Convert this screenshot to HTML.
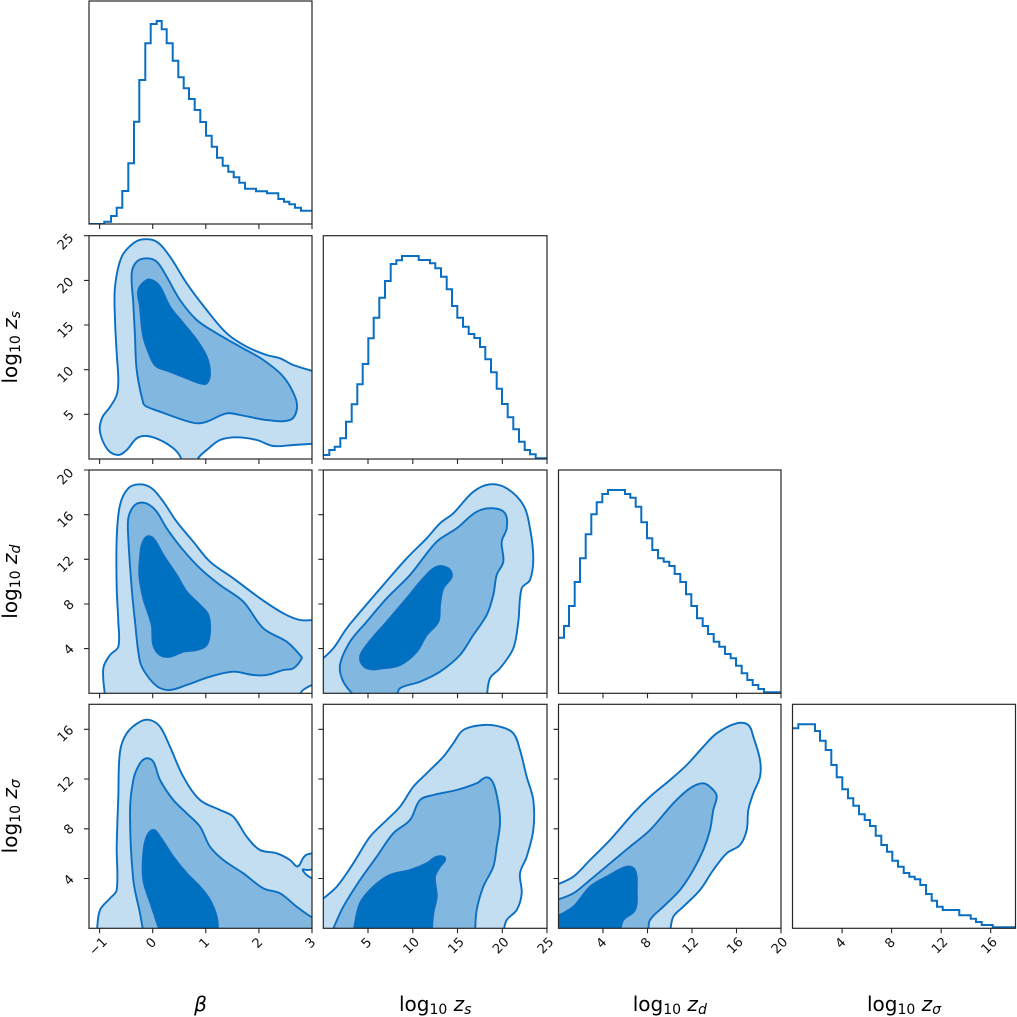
<!DOCTYPE html>
<html>
<head>
<meta charset="utf-8">
<style>
html,body{margin:0;padding:0;background:#fff;}
svg{display:block;}
.l1{fill:#c3ddf1;stroke:#0a6fc2;stroke-width:1.9;stroke-linejoin:round;}
.l2{fill:#82b7e0;stroke:#0a6fc2;stroke-width:1.9;stroke-linejoin:round;}
.l3{fill:#0071c1;stroke:#0a6fc2;stroke-width:1.9;stroke-linejoin:round;}
.hole{fill:#fff;stroke:#0a6fc2;stroke-width:1.9;stroke-linejoin:round;}
.hist{fill:none;stroke:#0a6fc2;stroke-width:2;stroke-linejoin:miter;}
.frame{fill:none;stroke:#262626;stroke-width:1.2;}
.tk{fill:none;stroke:#262626;stroke-width:1.1;}
.tl{font-family:"DejaVu Sans","Liberation Sans",sans-serif;font-size:13px;fill:#111;}
.al{font-family:"DejaVu Sans","Liberation Sans",sans-serif;font-size:20px;fill:#000;}
</style>
</head>
<body>
<svg width="1017" height="1017" viewBox="0 0 1017 1017" xmlns="http://www.w3.org/2000/svg">
<defs>
<clipPath id="c11"><rect x="89" y="1" width="223" height="223"/></clipPath>
<clipPath id="c21"><rect x="89" y="235.7" width="223" height="223.3"/></clipPath>
<clipPath id="c22"><rect x="323.3" y="235.7" width="223.7" height="223.3"/></clipPath>
<clipPath id="c31"><rect x="89" y="470" width="223" height="223.3"/></clipPath>
<clipPath id="c32"><rect x="323.3" y="470" width="223.7" height="223.3"/></clipPath>
<clipPath id="c33"><rect x="558.5" y="470" width="222.5" height="223.3"/></clipPath>
<clipPath id="c41"><rect x="89" y="704.3" width="223" height="224"/></clipPath>
<clipPath id="c42"><rect x="323.3" y="704.3" width="223.7" height="224"/></clipPath>
<clipPath id="c43"><rect x="558.5" y="704.3" width="222.5" height="224"/></clipPath>
<clipPath id="c44"><rect x="792.5" y="704.3" width="223" height="224"/></clipPath>
</defs>
<rect width="1017" height="1017" fill="#fff"/>

<!-- Contour panels -->
<g class="ct" clip-path="url(#c21)">
<polygon class="l1" points="182,463 180,456 173.3,448.3 160,440 146.7,436 136.7,438.3 126.7,450 118.3,455 108,450 100,432 102,418 110,407 116.7,395 118.3,380 116.7,353.3 115,320 115,286.7 121.7,256.7 133.3,243.3 143.3,239.3 156.7,241.7 170,256.7 186.7,283.3 206.7,310 226.7,333.3 246.7,346.7 266.7,355 280,358.3 293.3,365 316,372 316,443.5 293.3,445 273.3,446 256.7,440 236.7,437.3 220,440 206.7,450 199,457 197,463"/>
<polygon class="l2" points="143.3,403.3 136.7,370 135,336.7 133.3,303.3 131.7,273.3 136.7,261.7 146.7,258.3 156.7,261.7 166.7,276.7 180,300 196.7,320 216.7,333.3 240,346.7 263.3,360 283.3,376.7 295,396.7 296.7,410 290,420 266.7,420 240,415 226.7,413.3 206.7,421.7 196.7,423.3 183.3,420 160,411.7 146.7,406.7"/>
<polygon class="l3" points="151.7,360 143.3,336.7 140,306.7 138.3,290 146.7,280 153.3,280.7 160,286.7 170,306.7 183.3,323.3 196.7,340 206.7,356.7 210,373.3 206.7,383.3 200,383.3 186.7,378.3 170,371.7 156.7,366.7"/>
</g>

<g class="ct" clip-path="url(#c31)">
<polygon class="l1" points="105,697 103.3,668.3 110,655 118.3,646.7 118.3,621.7 116.7,588.3 116.7,538.3 120,505 128.3,488.3 140,484.3 151.7,488.3 163.3,501.7 176.7,521.7 193.3,541.7 210,561.7 233.3,578.3 260,598.3 283.3,613.3 300,620 316,620 316,697"/>
<polygon class="hole" points="299,697 302,691 307,687.5 312,685 316,684.5 316,697"/>
<polygon class="l2" points="146.7,675 140,661.7 135,621.7 131.7,588.3 128.3,538.3 128.3,518.3 133.3,506.7 140,502.7 148.3,504.3 156.7,511.7 166.7,528.3 181.7,548.3 200,568.3 220,585 243.3,601.7 263.3,628.3 286.7,641.7 300,655 301.7,658.3 293.3,668.3 283.3,670 266.7,675 253.3,675 233.3,671.7 210,676.7 186.7,685 170,690 158,687"/>
<polygon class="l3" points="140,558.3 141.7,545 146.7,536.7 153.3,538.3 163.3,555 176.7,575 186.7,591.7 200,605 208.3,615 210,631.7 206.7,645 196.7,650 183.3,651.7 170,656.7 160,655 153.3,645 151.7,625 143.3,598.3 139.3,575"/>
</g>

<g class="ct" clip-path="url(#c41)">
<polygon class="l1" points="96.7,932 100,910 110,898.3 116.7,890 116.7,846.7 118.3,796.7 120,751.7 126.7,733.3 140,721.7 150,720 160,726.7 170,746.7 183.3,776.7 200,800 220,810 233.3,816.7 246.7,836.7 260,850 276.7,853.3 290,860 296.5,866.3 299.5,865 302.5,859 306,855 312,853.3 316,853.3 316,932"/>
<polygon class="hole" points="303,869.5 306.7,870 312,869.5 316,869 316,878.5 312,878.3 306.7,875 303.5,871.5"/>
<polygon class="l2" points="143.3,932 140,913.3 133.3,880 130,813.3 133.3,780 140,763.3 146.7,758.3 153.3,761.7 160,780 173.3,800 186.7,813.3 200,826.7 210,846.7 223.3,860 243.3,873.3 263.3,888.3 280,893.3 296.7,906.7 312,917.3 316,917.3 316,932"/>
<polygon class="l3" points="160,932 151.7,906.7 143.3,880 143.3,853.3 146.7,836.7 153.3,830 160,836.7 173.3,856.7 186.7,873.3 200,886.7 210,900 216.7,916.7 218.3,932"/>
</g>

<g class="ct" clip-path="url(#c32)">
<polygon class="l1" points="319,662 333.3,648.3 346.7,628.3 363.3,608.3 383.3,585 406.7,558.3 426.7,538.3 440,523.3 453.3,513.3 473.3,491.7 490,484.3 506.7,488.3 523.3,505 530,528.3 533.3,558.3 530,580 521.7,588.3 518.3,621.7 513.3,648.3 500,668.3 490,678.3 486.7,697 319,697"/>
<polygon class="l2" points="355,697 343.3,681.7 340,665 350,641.7 366.7,621.7 386.7,598.3 410,575 436.7,541.7 456.7,528.3 476.7,511.7 493.3,508.3 505,513.3 506.7,528.3 501.7,541.7 503.3,561.7 496.7,575 493.3,595 486.7,615 473.3,635 460,655 440,671.7 420,681.7 400,688.3 396.7,697"/>
<polygon class="l3" points="360,658.3 366.7,645 386.7,621.7 406.7,598.3 423.3,578.3 436.7,566.7 448.3,568.3 451.7,576.7 443.3,588.3 440,605 438.3,621.7 426.7,635 416.7,651.7 400,665 383.3,668.3 366.7,668.3"/>
</g>

<g class="ct" clip-path="url(#c42)">
<polygon class="l1" points="319,902 336.7,886.7 353.3,863.3 370,836.7 386.7,820 400,806.7 413.3,786.7 426.7,773.3 443.3,756.7 453.3,743.3 463.3,730 483.3,725 500,726.7 513.3,733.3 520,750 526.7,776.7 533.3,800 533.3,830 526.7,856.7 520,873.3 521.7,893.3 516.7,910 506.7,920 503.3,932 319,932"/>
<polygon class="l2" points="331.7,932 343.3,906.7 360,880 376.7,856.7 393.3,833.3 410,820 420,800 433.3,795 456.7,790 476.7,783.3 486.7,777.3 493.3,783.3 498.3,803.3 500,823.3 496.7,846.7 493.3,866.7 483.3,886.7 476.7,910 475,932"/>
<polygon class="l3" points="353.3,932 360,903.3 373.3,886.7 390,875 410,870 426.7,863.3 436.7,856.7 445,858.3 440,866.7 435,876.7 436.7,896.7 433.3,913.3 431.7,932"/>
</g>

<g class="ct" clip-path="url(#c43)">
<polygon class="l1" points="554,886 573.3,876.7 590,860 610,840 633.3,813.3 650,796.7 670,780 686.7,765 703.3,746.7 716.7,733.3 736.7,723.3 748.3,725 753.3,736.7 760,760 760,776.7 753.3,793.3 748.3,810 746.7,830 740,845 726.7,853.3 713.3,870 700,890 683.3,906.7 673.3,916.7 670,932 554,932"/>
<polygon class="l2" points="554,901 573.3,893.3 590,880 610,863.3 630,846.7 650,830 673.3,803.3 690,788.3 703.3,783.3 713.3,790 716.7,796.7 713.3,810 710,830 703.3,850 693.3,870 680,890 663.3,906.7 650,920 648.3,932 554,932"/>
<polygon class="l3" points="554,918 573.3,906.7 590,886.7 606.7,876.7 626.7,866.7 635,870 636.7,890 635,910 623.3,920 620,932 554,932"/>
</g>

<!-- Histograms -->
<g clip-path="url(#c11)">
<path class="hist" d="M89,224 H104.3 V221.7 H111 V216 H116.7 V207.7 H122.3 V191 H128.3 V163.3 H134 V121.7 H139.3 V80 H145.3 V43.3 H150.7 V24 H156.7 V21 H161.7 V29.3 H166.7 V43.3 H172.7 V60.7 H178.3 V77.3 H183.7 V88.3 H189 V99 H194.7 V110 H200.3 V122 H206 V135.7 H211.7 V146.7 H217 V157.7 H222.7 V165.7 H228.3 V171.7 H233.7 V177.3 H239.3 V182.7 H245 V188.7 H256 V191.3 H267 V193.3 H278.3 V199 H284 V201.7 H289.3 V204.3 H295 V207.7 H301 V210.7 H313"/>
</g>
<g clip-path="url(#c22)">
<path class="hist" d="M323.3,455 H329.3 V450 H334.7 V446.7 H340.3 V438.3 H346 V421.7 H351.7 V404.3 H357.3 V384.3 H362.7 V364 H368.3 V338.3 H373.7 V317.7 H379.3 V297.7 H385 V281 H390.7 V264 H396.3 V260.3 H402 V256 H418.7 V260 H430 V263.3 H435.3 V268.3 H441 V276.7 H446.7 V289.3 H452 V306 H457.3 V317.7 H463 V326.7 H468.7 V334 H474.3 V338 H480 V347 H485.3 V359.3 H491 V372.3 H496.7 V388.7 H502 V404 H507.7 V417.3 H513.3 V429.3 H519 V441.7 H524.7 V450 H530 V454.3 H535.7 V458.3 H548"/>
</g>
<g clip-path="url(#c33)">
<path class="hist" d="M558.5,637.7 H564 V626 H569 V606 H574.7 V582 H580 V558.3 H585.7 V534.3 H591.3 V514.3 H596.7 V502.3 H602.3 V494 H608 V490 H625 V494 H630.3 V497.7 H635.7 V506.7 H641.3 V522.3 H647 V538.3 H652.3 V550 H658 V558.3 H663.7 V561.7 H669.3 V566 H674.7 V574 H680.3 V582 H686 V594.3 H691.3 V606 H697 V618.3 H702.7 V626 H708 V634 H713.7 V641.7 H719.3 V646.7 H725 V654 H730.7 V658.3 H736 V665.7 H741.7 V673.3 H747.3 V680 H752.7 V685 H758.3 V689 H764 V692.3 H782"/>
</g>
<g clip-path="url(#c44)">
<path class="hist" d="M792.5,728.3 H798.3 V724.3 H815 V731 H820 V740.7 H825.7 V750 H831.3 V765 H836.7 V777.3 H842.3 V789.3 H848 V798.3 H853.3 V805.7 H859 V814.3 H864.7 V820 H870 V826 H875.7 V835.7 H881.3 V845 H887 V851.7 H892.3 V860.7 H898 V866.7 H903.7 V873 H909.3 V876.7 H914.7 V879.3 H920.3 V885 H926 V894 H931.7 V900.7 H937 V906.7 H942.7 V910 H959.3 V915.3 H970.7 V918.7 H976 V922 H981.7 V925 H992.7 V927.3 H1016"/>
</g>

<!-- Frames -->
<rect class="frame" x="89" y="1" width="223" height="223"/>
<rect class="frame" x="89" y="235.7" width="223" height="223.3"/>
<rect class="frame" x="323.3" y="235.7" width="223.7" height="223.3"/>
<rect class="frame" x="89" y="470" width="223" height="223.3"/>
<rect class="frame" x="323.3" y="470" width="223.7" height="223.3"/>
<rect class="frame" x="558.5" y="470" width="222.5" height="223.3"/>
<rect class="frame" x="89" y="704.3" width="223" height="224"/>
<rect class="frame" x="323.3" y="704.3" width="223.7" height="224"/>
<rect class="frame" x="558.5" y="704.3" width="222.5" height="224"/>
<rect class="frame" x="792.5" y="704.3" width="223" height="224"/>

<!-- Ticks -->
<path class="tk" d="
M99.6,224v5M152.7,224v5M205.8,224v5M258.9,224v5M312,224v5
M99.6,459v5M152.7,459v5M205.8,459v5M258.9,459v5M312,459v5
M368,459v5M412.8,459v5M457.5,459v5M502.3,459v5M547,459v5
M99.6,693.3v5M152.7,693.3v5M205.8,693.3v5M258.9,693.3v5M312,693.3v5
M368,693.3v5M412.8,693.3v5M457.5,693.3v5M502.3,693.3v5M547,693.3v5
M603,693.3v5M647.5,693.3v5M692,693.3v5M736.5,693.3v5M781,693.3v5
M99.6,928.3v5M152.7,928.3v5M205.8,928.3v5M258.9,928.3v5M312,928.3v5
M368,928.3v5M412.8,928.3v5M457.5,928.3v5M502.3,928.3v5M547,928.3v5
M603,928.3v5M647.5,928.3v5M692,928.3v5M736.5,928.3v5M781,928.3v5
M842.1,928.3v5M891.6,928.3v5M941.2,928.3v5M990.7,928.3v5
M84,414.3h5M84,369.7h5M84,325h5M84,280.4h5M84,235.7h5
M84,648.6h5M84,604h5M84,559.3h5M84,514.7h5M84,470h5
M318.3,648.6h5M318.3,604h5M318.3,559.3h5M318.3,514.7h5M318.3,470h5
M84,878.5h5M84,828.8h5M84,779h5M84,729.3h5
M318.3,878.5h5M318.3,828.8h5M318.3,779h5M318.3,729.3h5
M553.5,878.5h5M553.5,828.8h5M553.5,779h5M553.5,729.3h5
"/>

<!-- X tick labels -->
<g class="tl" text-anchor="middle" dominant-baseline="central">
<text x="98.6" y="947" transform="rotate(-45 98.6 947)">−1</text>
<text x="151.7" y="943.5" transform="rotate(-45 151.7 943.5)">0</text>
<text x="204.8" y="943.5" transform="rotate(-45 204.8 943.5)">1</text>
<text x="257.9" y="943.5" transform="rotate(-45 257.9 943.5)">2</text>
<text x="311" y="943.5" transform="rotate(-45 311 943.5)">3</text>
<text x="367" y="943.5" transform="rotate(-45 367 943.5)">5</text>
<text x="411.8" y="946" transform="rotate(-45 411.8 946)">10</text>
<text x="456.5" y="946" transform="rotate(-45 456.5 946)">15</text>
<text x="501.3" y="946" transform="rotate(-45 501.3 946)">20</text>
<text x="546" y="946" transform="rotate(-45 546 946)">25</text>
<text x="602" y="943.5" transform="rotate(-45 602 943.5)">4</text>
<text x="646.5" y="943.5" transform="rotate(-45 646.5 943.5)">8</text>
<text x="691" y="946" transform="rotate(-45 691 946)">12</text>
<text x="735.5" y="946" transform="rotate(-45 735.5 946)">16</text>
<text x="780" y="946" transform="rotate(-45 780 946)">20</text>
<text x="841.1" y="943.5" transform="rotate(-45 841.1 943.5)">4</text>
<text x="890.6" y="943.5" transform="rotate(-45 890.6 943.5)">8</text>
<text x="940.2" y="946" transform="rotate(-45 940.2 946)">12</text>
<text x="989.7" y="946" transform="rotate(-45 989.7 946)">16</text>
</g>

<!-- Y tick labels -->
<g class="tl" text-anchor="middle" dominant-baseline="central">
<text x="69.5" y="415.8" transform="rotate(-45 69.5 415.8)">5</text>
<text x="66" y="375.2" transform="rotate(-45 66 375.2)">10</text>
<text x="66" y="330.5" transform="rotate(-45 66 330.5)">15</text>
<text x="66" y="285.9" transform="rotate(-45 66 285.9)">20</text>
<text x="66" y="242.2" transform="rotate(-45 66 242.2)">25</text>
<text x="69.5" y="650.1" transform="rotate(-45 69.5 650.1)">4</text>
<text x="69.5" y="605.5" transform="rotate(-45 69.5 605.5)">8</text>
<text x="66" y="564.8" transform="rotate(-45 66 564.8)">12</text>
<text x="66" y="520.2" transform="rotate(-45 66 520.2)">16</text>
<text x="66" y="477" transform="rotate(-45 66 477)">20</text>
<text x="69.5" y="880.5" transform="rotate(-45 69.5 880.5)">4</text>
<text x="69.5" y="829.8" transform="rotate(-45 69.5 829.8)">8</text>
<text x="66" y="785" transform="rotate(-45 66 785)">12</text>
<text x="66" y="734.3" transform="rotate(-45 66 734.3)">16</text>
</g>

<!-- Axis labels -->
<g class="al" text-anchor="middle">
<text x="200.5" y="1011" font-style="italic">β</text>
<text x="435.2" y="1011">log<tspan font-size="14" dy="3">10</tspan><tspan font-style="italic" dy="-3"> z</tspan><tspan font-size="14" font-style="italic" dy="3">s</tspan></text>
<text x="669.8" y="1011">log<tspan font-size="14" dy="3">10</tspan><tspan font-style="italic" dy="-3"> z</tspan><tspan font-size="14" font-style="italic" dy="3">d</tspan></text>
<text x="904" y="1011">log<tspan font-size="14" dy="3">10</tspan><tspan font-style="italic" dy="-3"> z</tspan><tspan font-size="14" font-style="italic" dy="3">σ</tspan></text>
<text transform="translate(17 347.3) rotate(-90)">log<tspan font-size="14" dy="3">10</tspan><tspan font-style="italic" dy="-3"> z</tspan><tspan font-size="14" font-style="italic" dy="3">s</tspan></text>
<text transform="translate(17 581.7) rotate(-90)">log<tspan font-size="14" dy="3">10</tspan><tspan font-style="italic" dy="-3"> z</tspan><tspan font-size="14" font-style="italic" dy="3">d</tspan></text>
<text transform="translate(17 816.3) rotate(-90)">log<tspan font-size="14" dy="3">10</tspan><tspan font-style="italic" dy="-3"> z</tspan><tspan font-size="14" font-style="italic" dy="3">σ</tspan></text>
</g>
</svg>
<script>
(function(){
  var NS="http://www.w3.org/2000/svg";
  var groups=document.querySelectorAll("g.ct");
  for(var gi=0;gi<groups.length;gi++){
    var g=groups[gi];
    var m=(g.getAttribute("clip-path")||"").match(/#([A-Za-z0-9_]+)/);
    if(!m)continue;
    var r=document.querySelector("#"+m[1]+" rect");
    var x0=+r.getAttribute("x"),y0=+r.getAttribute("y");
    var x1=x0+(+r.getAttribute("width")),y1=y0+(+r.getAttribute("height"));
    var polys=g.querySelectorAll("polygon");
    for(var k=0;k<polys.length;k++){
      var pg=polys[k];
      var a=pg.getAttribute("points").trim().split(/[\s,]+/).map(Number);
      var P=[];for(var i=0;i+1<a.length;i+=2)P.push([a[i],a[i+1]]);
      var n=P.length;if(n<3)continue;
      var sh=function(p){return p[0]<x0-1||p[0]>x1+1||p[1]<y0-1||p[1]>y1+1;};
      var G=function(i){return P[((i%n)+n)%n];};
      var f=function(v){return Math.round(v*100)/100;};
      var d="M"+f(P[0][0])+","+f(P[0][1]);
      for(var i=0;i<n;i++){
        var p0=G(i-1),p1=G(i),p2=G(i+1),p3=G(i+2);
        var L=Math.hypot(p2[0]-p1[0],p2[1]-p1[1]);
        var c1,c2;
        if(sh(p1)){c1=[p1[0]+(p2[0]-p1[0])/3,p1[1]+(p2[1]-p1[1])/3];}
        else{var tx=p2[0]-p0[0],ty=p2[1]-p0[1],tl=Math.hypot(tx,ty)||1;c1=[p1[0]+tx/tl*L/3,p1[1]+ty/tl*L/3];}
        if(sh(p2)){c2=[p2[0]+(p1[0]-p2[0])/3,p2[1]+(p1[1]-p2[1])/3];}
        else{var ux=p3[0]-p1[0],uy=p3[1]-p1[1],ul=Math.hypot(ux,uy)||1;c2=[p2[0]-ux/ul*L/3,p2[1]-uy/ul*L/3];}
        d+="C"+f(c1[0])+","+f(c1[1])+" "+f(c2[0])+","+f(c2[1])+" "+f(p2[0])+","+f(p2[1]);
      }
      d+="Z";
      var pa=document.createElementNS(NS,"path");
      pa.setAttribute("class",pg.getAttribute("class"));
      pa.setAttribute("d",d);
      pg.parentNode.replaceChild(pa,pg);
    }
  }
})();
</script>
</body>
</html>
